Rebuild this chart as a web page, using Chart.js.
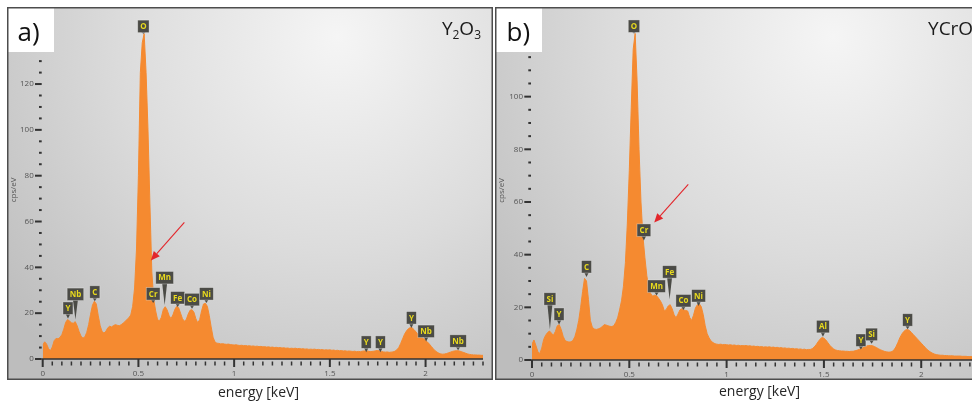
<!DOCTYPE html>
<html>
<head>
<meta charset="utf-8">
<script src="https://cdn.jsdelivr.net/npm/chart.js@4.4.1/dist/chart.umd.min.js"></script>
<style>
  html, body { margin: 0; padding: 0; background: #fff; width: 972px; height: 405px; overflow: hidden; }
  .panel { position: absolute; top: 7px; }
  .panel canvas { display: block; }
  #pa { left: 7px; }
  #pb { left: 495px; }
</style>
</head>
<body>
<div class="panel" id="pa"><canvas id="chartA" width="486" height="398"></canvas></div>
<div class="panel" id="pb"><canvas id="chartB" width="497" height="398"></canvas></div>
<script>
// EDS spectra, one channel every 0.01 keV starting at 0 keV
const STEP = 0.01;

// a) Y2O3 counts (cps/eV)
const countsA = [
  6.0, 7.5, 6.6, 4.6, 3.6, 5.2, 8.0, 9.0, 8.8, 9.4,
  10.6, 13.0, 16.0, 17.2, 16.6, 15.8, 15.6, 16.3, 14.5, 12.0,
  10.0, 9.1, 9.6, 11.6, 15.0, 19.5, 23.5, 25.2, 24.0, 19.0,
  14.6, 12.0, 11.3, 12.1, 13.6, 14.3, 14.0, 14.6, 15.0, 14.7,
  14.5, 15.0, 15.6, 16.4, 17.2, 18.0, 19.2, 23.0, 31.0, 48.0,
  80.0, 125.0, 138.0, 142.0, 125.0, 100.0, 68.0, 38.0, 26.0, 21.0,
  17.2, 16.6, 18.2, 21.6, 22.8, 21.4, 19.0, 17.6, 19.2, 21.6,
  23.0, 22.4, 20.0, 17.6, 16.5, 17.2, 19.6, 21.3, 21.5, 20.4,
  17.6, 15.8, 17.2, 21.0, 24.0, 24.3, 23.0, 19.0, 14.0, 9.5,
  7.4, 6.9, 6.8, 6.6, 6.7, 6.5, 6.4, 6.5, 6.3, 6.2,
  6.1, 6.2, 6.0, 5.9, 6.0, 5.8, 5.9, 5.7, 5.8, 5.6,
  5.7, 5.5, 5.6, 5.4, 5.5, 5.3, 5.4, 5.2, 5.3, 5.1,
  5.2, 5.0, 5.1, 4.9, 5.0, 4.8, 4.9, 4.7, 4.8, 4.6,
  4.7, 4.6, 4.7, 4.5, 4.6, 4.4, 4.5, 4.3, 4.4, 4.2,
  4.3, 4.2, 4.3, 4.1, 4.2, 4.0, 4.1, 3.9, 4.0, 3.9,
  4.0, 3.8, 3.9, 3.7, 3.8, 3.6, 3.7, 3.5, 3.6, 3.4,
  3.5, 3.4, 3.3, 3.4, 3.2, 3.3, 3.2, 3.4, 3.5, 3.6,
  3.4, 3.2, 3.3, 3.4, 3.6, 3.7, 3.5, 3.3, 3.1, 3.0,
  3.1, 2.9, 3.0, 3.1, 3.4, 4.0, 5.0, 6.8, 8.8, 10.8,
  12.2, 13.2, 13.7, 13.6, 12.8, 11.8, 10.8, 10.0, 9.4, 8.8,
  8.2, 7.4, 6.5, 5.5, 4.5, 3.6, 3.0, 2.5, 2.2, 2.1,
  2.2, 2.4, 2.7, 3.0, 3.3, 3.5, 3.6, 3.6, 3.4, 3.1,
  2.8, 2.5, 2.2, 2.0, 1.9, 1.8, 1.8, 1.7, 1.7, 1.6,
  1.6
];

// b) YCrO3 counts (cps/eV)
const countsB = [
  6.0, 7.6, 5.5, 3.2, 2.4, 4.5, 7.8, 9.4, 10.4, 11.0,
  10.2, 9.4, 10.8, 13.0, 13.4, 11.6, 9.0, 7.4, 7.0, 6.8,
  6.9, 7.4, 8.8, 11.4, 15.0, 20.0, 26.0, 31.0, 30.0, 23.0,
  15.0, 12.4, 11.8, 11.6, 11.8, 12.1, 12.6, 13.4, 13.3, 13.0,
  12.8, 12.7, 13.0, 14.2, 16.0, 19.0, 22.5, 28.0, 37.0, 52.0,
  72.0, 96.0, 118.0, 124.0, 106.0, 80.0, 60.0, 47.0, 39.0, 32.0,
  27.5, 25.2, 24.2, 24.6, 24.4, 23.5, 22.4, 21.0, 18.6, 19.2,
  20.5, 21.0, 19.5, 17.2, 16.0, 17.4, 19.0, 19.5, 19.0, 18.8,
  18.6, 16.2, 15.0, 17.0, 19.8, 21.0, 21.3, 20.2, 17.2, 13.0,
  10.0, 8.4, 7.2, 6.6, 6.2, 6.0, 5.9, 6.0, 5.8, 5.9,
  5.8, 5.7, 5.8, 5.6, 5.7, 5.5, 5.6, 5.4, 5.5, 5.4,
  5.5, 5.3, 5.4, 5.2, 5.3, 5.1, 5.2, 5.0, 5.1, 4.9,
  5.0, 4.9, 5.0, 4.8, 4.9, 4.7, 4.8, 4.6, 4.7, 4.5,
  4.6, 4.4, 4.5, 4.3, 4.4, 4.2, 4.3, 4.1, 4.2, 4.0,
  4.1, 3.9, 4.0, 4.0, 4.3, 4.9, 5.8, 6.9, 7.9, 8.5,
  8.3, 7.6, 6.6, 5.6, 4.8, 4.2, 3.8, 3.6, 3.5, 3.4,
  3.4, 3.3, 3.3, 3.2, 3.3, 3.3, 3.5, 3.7, 4.0, 4.3,
  4.6, 5.0, 5.3, 5.5, 5.5, 5.4, 5.1, 4.7, 4.3, 3.9,
  3.6, 3.3, 3.1, 3.0, 3.0, 3.2, 3.8, 5.0, 6.6, 8.4,
  9.8, 10.8, 11.4, 11.6, 11.2, 10.4, 9.6, 8.8, 8.0, 7.2,
  6.4, 5.6, 4.8, 4.0, 3.4, 2.9, 2.5, 2.2, 2.0, 1.9,
  1.8, 1.8, 1.7, 1.7, 1.6, 1.6, 1.6, 1.5, 1.5, 1.5,
  1.5, 1.4, 1.4, 1.4, 1.3, 1.3, 1.3, 1.2, 1.2, 1.2,
  1.2
];

// element markers: name, energy (keV), value at marker tip (cps/eV)
const peakNamesA = ['O', 'Y', 'Nb', 'C', 'Cr', 'Mn', 'Fe', 'Co', 'Ni', 'Y', 'Y', 'Y', 'Nb', 'Nb'];
const peakEnergyA = [0.526, 0.132, 0.171, 0.272, 0.577, 0.637, 0.705, 0.780, 0.855, 1.690, 1.764, 1.926, 2.003, 2.170];
const peakTipA = [142, 17.7, 17.2, 25.2, 24.4, 23.6, 22.7, 21.9, 24.4, 2.9, 2.9, 13.5, 7.6, 3.8];

const peakNamesB = ['O', 'Si', 'Y', 'C', 'Cr', 'Mn', 'Fe', 'Co', 'Ni', 'Al', 'Y', 'Si', 'Y'];
const peakEnergyB = [0.524, 0.092, 0.139, 0.280, 0.575, 0.640, 0.707, 0.778, 0.856, 1.495, 1.690, 1.745, 1.930];
const peakTipB = [124, 11.7, 13.5, 31.5, 45.4, 24.5, 23.1, 19.0, 20.5, 8.8, 4.0, 6.2, 11.7];

// red arrows [start, tip] as [keV, cps/eV]
const arrowA = [[0.74, 59.6], [0.565, 43]];
const arrowB = [[0.803, 66.7], [0.628, 52.2]];

const FONT = '"Open Sans", "DejaVu Sans", sans-serif';
Chart.defaults.font.family = FONT;
Chart.defaults.color = '#555';

const isStep = (v, s) => Math.abs(v / s - Math.round(v / s)) < 1e-6;

// background, frame, tick marks, element markers, arrows, panel captions
const panelDeco = {
  id: 'panelDeco',
  beforeDraw(chart, _a, o) {
    const { ctx, width } = chart;
    const h = o.frameH;
    const cx = width * 0.68, cy = h * 0.08;
    const g = ctx.createRadialGradient(cx, cy, 0, cx, cy, width * 0.88);
    g.addColorStop(0, '#f5f5f5');
    g.addColorStop(0.5, '#dcdcdc');
    g.addColorStop(1, '#bdbdbd');
    ctx.save();
    ctx.fillStyle = g;
    ctx.fillRect(0, 0, width, h);
    ctx.restore();
  },
  afterDraw(chart, _a, o) {
    const { ctx, width, chartArea: ca, scales: { x, y } } = chart;
    ctx.save();

    // x axis line and ticks
    ctx.fillStyle = '#333';
    ctx.fillRect(ca.left - 1, ca.bottom - 0.75, ca.right - ca.left + 1, 1.5);
    x.ticks.forEach(t => {
      const px = x.getPixelForValue(t.value);
      if (isStep(t.value, 0.5)) ctx.fillRect(px - 1, ca.bottom, 2, 8);
      else ctx.fillRect(px - 0.75, ca.bottom + 2.5, 1.5, 4);
    });
    // y ticks
    y.ticks.forEach(t => {
      const py = y.getPixelForValue(t.value);
      if (t.value % 20 === 0) ctx.fillRect(ca.left - 7.7, py - 1, 6.7, 2);
      else ctx.fillRect(ca.left - 3.7, py - 1, 2.7, 2);
    });

    // element markers
    ctx.font = 'bold 8px ' + FONT;
    ctx.textAlign = 'center';
    ctx.textBaseline = 'middle';
    o.names.forEach((name, i) => {
      const px = x.getPixelForValue(o.energy[i]);
      const py = y.getPixelForValue(o.tip[i]);
      const bottom = py - o.lift[i];
      const w = Math.max(9, ctx.measureText(name).width + 5), h = 12.5;
      ctx.fillStyle = '#4b4b46';
      ctx.beginPath();
      ctx.moveTo(px - 2.5, bottom - 1);
      ctx.lineTo(px + 2.5, bottom - 1);
      ctx.lineTo(px, py);
      ctx.closePath();
      ctx.fill();
      ctx.fillRect(px - w / 2, bottom - h, w, h);
      ctx.strokeStyle = 'rgba(255,255,255,0.4)';
      ctx.lineWidth = 0.8;
      ctx.strokeRect(px - w / 2, bottom - h, w, h);
      ctx.fillStyle = '#e8da1e';
      ctx.fillText(name, px, bottom - h / 2 + 0.5);
    });

    // red arrow
    const [s, e] = o.arrow;
    const x1 = x.getPixelForValue(s[0]), y1 = y.getPixelForValue(s[1]);
    const x2 = x.getPixelForValue(e[0]), y2 = y.getPixelForValue(e[1]);
    const ang = Math.atan2(y2 - y1, x2 - x1);
    const hl = 9, hw = 4;
    const bx = x2 - hl * Math.cos(ang), by = y2 - hl * Math.sin(ang);
    ctx.strokeStyle = '#e3262b';
    ctx.lineWidth = 1.1;
    ctx.beginPath();
    ctx.moveTo(x1, y1);
    ctx.lineTo(bx, by);
    ctx.stroke();
    ctx.fillStyle = '#e3262b';
    ctx.beginPath();
    ctx.moveTo(x2, y2);
    ctx.lineTo(bx + hw * Math.sin(ang), by - hw * Math.cos(ang));
    ctx.lineTo(bx - hw * Math.sin(ang), by + hw * Math.cos(ang));
    ctx.closePath();
    ctx.fill();

    // panel letter box
    const [lx, ly, lw, lh] = o.letterBox;
    ctx.fillStyle = '#fff';
    ctx.fillRect(lx, ly, lw, lh);
    ctx.fillStyle = '#111';
    ctx.textAlign = 'left';
    ctx.textBaseline = 'alphabetic';
    ctx.font = '26px ' + FONT;
    ctx.fillText(o.letter, lx + 10.5, 33.7);

    // formula, right aligned
    const big = '19px ' + FONT, small = '12px ' + FONT;
    let total = 0;
    o.formula.forEach(([txt, sub]) => { ctx.font = sub ? small : big; total += ctx.measureText(txt).width; });
    let fx = o.formulaRight - total;
    ctx.fillStyle = '#1a1a1a';
    o.formula.forEach(([txt, sub]) => {
      ctx.font = sub ? small : big;
      ctx.fillText(txt, fx, sub ? 31.5 : 28);
      fx += ctx.measureText(txt).width;
    });

    // frame
    ctx.strokeStyle = '#4d4d4d';
    ctx.lineWidth = 1.5;
    ctx.strokeRect(0.75, 0.75, width - 1.5, o.frameH - 1.5);

    // x title below the frame
    ctx.font = '14px ' + FONT;
    ctx.fillStyle = '#262626';
    ctx.textAlign = 'center';
    ctx.textBaseline = 'middle';
    ctx.fillText('energy [keV]', o.titleX, o.titleY);
    ctx.restore();
  }
};

function makeChart(id, counts, cfg) {
  const points = counts.map((v, i) => ({ x: +(i * STEP).toFixed(2), y: v }));
  return new Chart(document.getElementById(id), {
    type: 'line',
    data: {
      datasets: [{
        data: points,
        borderColor: '#f58a30',
        backgroundColor: '#f58a30',
        borderWidth: 1,
        pointRadius: 0,
        fill: 'origin',
        tension: 0
      }]
    },
    options: {
      responsive: false,
      animation: false,
      layout: { autoPadding: false, padding: { left: 0, top: 1, right: cfg.padRight, bottom: 0 } },
      plugins: {
        legend: { display: false },
        tooltip: { enabled: false },
        panelDeco: cfg.deco
      },
      scales: {
        x: {
          type: 'linear',
          bounds: 'data',
          min: 0,
          max: 2.3,
          afterFit: s => { s.height = cfg.xHeight; },
          border: { display: false },
          grid: { display: false, drawTicks: false },
          ticks: {
            stepSize: 0.05,
            autoSkip: false,
            maxRotation: 0,
            minRotation: 0,
            includeBounds: false,
            padding: 10,
            font: { size: 8 },
            color: '#555',
            callback: v => isStep(v, 0.5) ? String(+v.toFixed(2)) : ''
          }
        },
        y: {
          type: 'linear',
          bounds: 'data',
          min: 0,
          max: cfg.yMax,
          afterFit: s => { s.width = cfg.yWidth; },
          border: { display: false },
          grid: { display: false, drawTicks: false },
          title: { display: true, text: 'cps/eV', font: { size: 8 }, color: '#555', padding: { top: 2, bottom: 0 } },
          ticks: {
            stepSize: 5,
            autoSkip: false,
            includeBounds: false,
            padding: 9,
            font: { size: 8 },
            color: '#555',
            callback: v => v % 20 === 0 ? v : ''
          }
        }
      }
    },
    plugins: [panelDeco]
  });
}

makeChart('chartA', countsA, {
  padRight: 3, xHeight: 46, yWidth: 35.7, yMax: 147.6,
  deco: {
    frameH: 373,
    names: peakNamesA, energy: peakEnergyA, tip: peakTipA,
    lift: [1, 4, 19, 3, 3, 21, 3, 3, 3, 4, 4, 4, 4, 3],
    arrow: arrowA,
    letter: 'a)', letterBox: [0, 0, 47, 45],
    formula: [['Y', 0], ['2', 1], ['O', 0], ['3', 1]], formulaRight: 474,
    titleX: 251.5, titleY: 386
  }
});

makeChart('chartB', countsB, {
  padRight: 12.4, xHeight: 45, yWidth: 37, yMax: 128.8,
  deco: {
    frameH: 373,
    names: peakNamesB, energy: peakEnergyB, tip: peakTipB,
    lift: [1, 24, 4, 4, 4, 3, 21, 3, 4, 4, 3, 3, 3],
    arrow: arrowB,
    letter: 'b)', letterBox: [1, 1, 46, 44],
    formula: [['YCrO', 0], ['3', 1]], formulaRight: 485,
    titleX: 264.5, titleY: 385
  }
});
</script>
</body>
</html>
